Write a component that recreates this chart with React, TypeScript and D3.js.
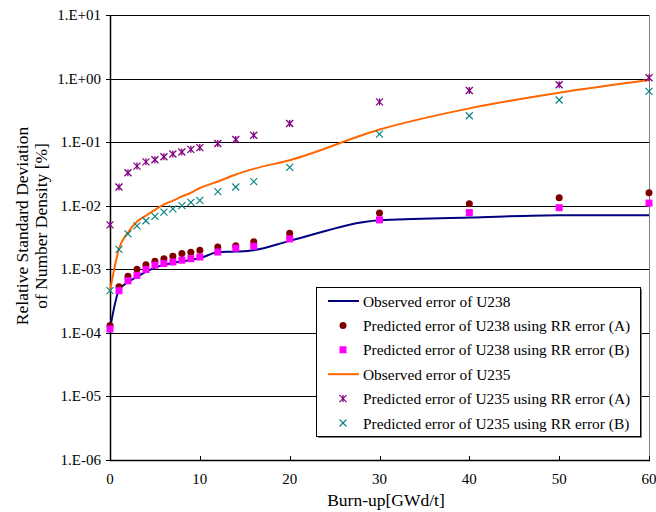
import React from "react";
import * as d3 from "d3";

const burnup = [0, 1, 2, 3, 4, 5, 6, 7, 8, 9, 10, 12, 14, 16, 20, 30, 40, 50, 60];

const obsU238 = [1.15e-4, 4.7e-4, 6.3e-4, 7.6e-4, 9.1e-4, 1.06e-3, 1.18e-3, 1.26e-3, 1.34e-3, 1.4e-3, 1.5e-3, 1.85e-3, 1.9e-3, 2.0e-3, 2.8e-3, 5.9e-3, 6.5e-3, 7.1e-3, 7.1e-3];
const predU238A = [1.3e-4, 5.3e-4, 7.8e-4, 1.0e-3, 1.18e-3, 1.34e-3, 1.47e-3, 1.6e-3, 1.77e-3, 1.85e-3, 2.0e-3, 2.25e-3, 2.35e-3, 2.7e-3, 3.7e-3, 7.7e-3, 1.07e-2, 1.34e-2, 1.6e-2];
const predU238B = [1.15e-4, 4.6e-4, 6.6e-4, 8.0e-4, 9.9e-4, 1.16e-3, 1.23e-3, 1.3e-3, 1.39e-3, 1.47e-3, 1.56e-3, 1.87e-3, 2.15e-3, 2.3e-3, 3.0e-3, 6.0e-3, 7.8e-3, 9.3e-3, 1.1e-2];
const obsU235 = [4.6e-4, 2.1e-3, 3.8e-3, 5.6e-3, 7.0e-3, 8.6e-3, 1.05e-2, 1.2e-2, 1.4e-2, 1.6e-2, 1.9e-2, 2.4e-2, 3.1e-2, 3.8e-2, 5.2e-2, 0.158, 0.34, 0.6, 0.95];
const predU235A = [5.0e-3, 1.97e-2, 3.3e-2, 4.2e-2, 4.9e-2, 5.3e-2, 5.9e-2, 6.5e-2, 7.0e-2, 7.7e-2, 8.2e-2, 9.5e-2, 0.11, 0.128, 0.197, 0.43, 0.65, 0.8, 1.03];
const predU235B = [4.6e-4, 2.06e-3, 3.6e-3, 4.8e-3, 5.8e-3, 6.8e-3, 7.9e-3, 8.9e-3, 1.0e-2, 1.13e-2, 1.21e-2, 1.66e-2, 1.97e-2, 2.4e-2, 4.0e-2, 0.134, 0.26, 0.46, 0.63];

const yTickValues = [1e-6, 1e-5, 1e-4, 1e-3, 1e-2, 1e-1, 1, 10];
const yTickLabels = ["1.E-06", "1.E-05", "1.E-04", "1.E-03", "1.E-02", "1.E-01", "1.E+00", "1.E+01"];
const xTickValues = [0, 10, 20, 30, 40, 50, 60];

const legendLabels = [
  "Observed error of U238",
  "Predicted error of U238 using RR error (A)",
  "Predicted error of U238 using RR error (B)",
  "Observed error of U235",
  "Predicted error of U235 using RR error (A)",
  "Predicted error of U235 using RR error (B)",
];

const FONT = "'Liberation Serif', 'Times New Roman', serif";
const NAVY = "#000080";
const ORANGE = "#FF6600";
const DARKRED = "#800000";
const MAGENTA = "#FF00FF";
const PURPLE = "#800080";
const TEAL = "#008080";

const L = 110, R = 649, T = 15, B = 460;

function Marker({ kind, x, y }: { kind: string; x: number; y: number }) {
  if (kind === "circle") return <circle cx={x} cy={y} r={3.5} fill={DARKRED} />;
  if (kind === "square") return <rect x={x - 3.5} y={y - 3.5} width={7} height={7} fill={MAGENTA} />;
  const s = 3.5;
  if (kind === "star")
    return (
      <g stroke={PURPLE} strokeWidth={1.3}>
        <line x1={x - s} y1={y - s} x2={x + s} y2={y + s} />
        <line x1={x - s} y1={y + s} x2={x + s} y2={y - s} />
        <line x1={x} y1={y - s} x2={x} y2={y + s} />
      </g>
    );
  return (
    <g stroke={TEAL} strokeWidth={1.1}>
      <line x1={x - s} y1={y - s} x2={x + s} y2={y + s} />
      <line x1={x - s} y1={y + s} x2={x + s} y2={y - s} />
    </g>
  );
}

export default function App() {
  const x = d3.scaleLinear().domain([0, 60]).range([L, R]);
  const y = d3.scaleLog().domain([1e-6, 10]).range([B, T]);
  const line = d3
    .line<[number, number]>()
    .x((d) => x(d[0]))
    .y((d) => y(d[1]))
    .curve(d3.curveMonotoneX);
  const pts = (vals: number[]) => burnup.map((b, i) => [b, vals[i]] as [number, number]);

  const legX = 316, legY = 287, legW = 324, legH = 149;
  const rowY = (i: number) => 301 + i * 24.4;

  return (
    <svg
      width={656}
      height={512}
      style={{ position: "absolute", left: 0, top: 0, background: "#fff" }}
      fontFamily={FONT}
    >
      {/* gridlines */}
      {yTickValues.slice(1).map((v) => (
        <line key={v} x1={L} x2={R} y1={Math.round(y(v)) + 0.5} y2={Math.round(y(v)) + 0.5} stroke="#000" strokeWidth={1} />
      ))}
      {/* right border */}
      <line x1={R + 0.5} x2={R + 0.5} y1={T} y2={B} stroke="#808080" strokeWidth={1} />
      {/* axes */}
      <line x1={L + 0.5} x2={L + 0.5} y1={T} y2={B + 1} stroke="#000" strokeWidth={1.5} />
      <line x1={L} x2={R + 1} y1={B + 0.5} y2={B + 0.5} stroke="#000" strokeWidth={1.5} />
      {/* y ticks */}
      {yTickValues.map((v, i) => (
        <g key={v}>
          <line x1={L - 4} x2={L} y1={Math.round(y(v)) + 0.5} y2={Math.round(y(v)) + 0.5} stroke="#000" />
          <text x={101} y={y(v) + 5} textAnchor="end" fontSize={15} fill="#000">
            {yTickLabels[i]}
          </text>
        </g>
      ))}
      {/* x ticks */}
      {xTickValues.map((v) => (
        <g key={v}>
          <line x1={Math.round(x(v)) + 0.5} x2={Math.round(x(v)) + 0.5} y1={B} y2={B - 4} stroke="#000" />
          <text x={x(v)} y={484} textAnchor="middle" fontSize={15} fill="#000">
            {v}
          </text>
        </g>
      ))}
      {/* titles */}
      <text x={386} y={506} textAnchor="middle" fontSize={17.5} fill="#000">
        Burn-up[GWd/t]
      </text>
      <text transform="translate(28,226) rotate(-90)" textAnchor="middle" fontSize={17.5} fill="#000">
        Relative Standard Deviation
      </text>
      <text transform="translate(47,226) rotate(-90)" textAnchor="middle" fontSize={17.5} fill="#000">
        of Number Density [%]
      </text>

      {/* lines */}
      <path d={line(pts(obsU238)) || ""} fill="none" stroke={NAVY} strokeWidth={2} />
      <path d={line(pts(obsU235)) || ""} fill="none" stroke={ORANGE} strokeWidth={2} />

      {/* markers */}
      {burnup.map((b, i) => (
        <g key={"m" + b}>
          <Marker kind="circle" x={x(b)} y={y(predU238A[i])} />
          <Marker kind="square" x={x(b)} y={y(predU238B[i])} />
          <Marker kind="star" x={x(b)} y={y(predU235A[i])} />
          <Marker kind="x" x={x(b)} y={y(predU235B[i])} />
        </g>
      ))}

      {/* legend */}
      <rect x={legX + 2} y={legY + 2} width={legW} height={legH} fill="#808080" />
      <rect x={legX + 0.5} y={legY + 0.5} width={legW} height={legH} fill="#fff" stroke="#000" strokeWidth={1} />
      {legendLabels.map((lab, i) => {
        const cy = rowY(i);
        let sym: React.ReactNode = null;
        if (i === 0) sym = <line x1={328} x2={359} y1={cy} y2={cy} stroke={NAVY} strokeWidth={2} />;
        else if (i === 3) sym = <line x1={328} x2={359} y1={cy} y2={cy} stroke={ORANGE} strokeWidth={2} />;
        else if (i === 1) sym = <Marker kind="circle" x={343} y={cy} />;
        else if (i === 2) sym = <Marker kind="square" x={343} y={cy} />;
        else if (i === 4) sym = <Marker kind="star" x={343} y={cy} />;
        else sym = <Marker kind="x" x={343} y={cy} />;
        return (
          <g key={lab}>
            {sym}
            <text x={363} y={cy + 5.5} fontSize={15.4} fill="#000">
              {lab}
            </text>
          </g>
        );
      })}
    </svg>
  );
}
